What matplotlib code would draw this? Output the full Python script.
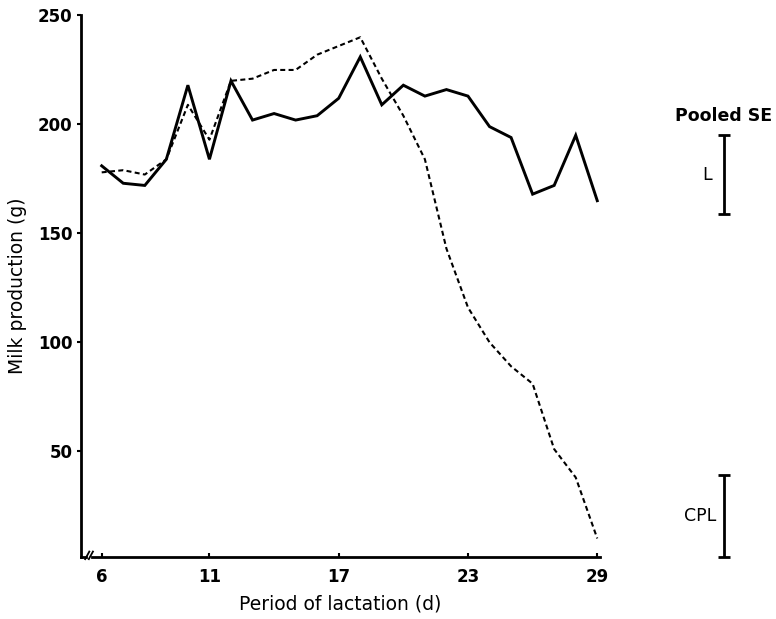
import numpy as np
import matplotlib
matplotlib.use("Agg")
import matplotlib.pyplot as plt

# Day of lactation
days = list(range(6, 30))

# Milk production (g), solid line = L, dashed line = CPL
milk_L = [181, 173, 172, 184, 218, 184, 220, 202, 205, 202, 204, 212,
          231, 209, 218, 213, 216, 213, 199, 194, 168, 172, 195, 165]
milk_CPL = [178, 179, 177, 184, 209, 193, 220, 221, 225, 225, 232, 236,
            240, 221, 204, 184, 143, 116, 100, 89, 81, 51, 38, 10]

x_ticks = [6, 11, 17, 23, 29]
y_ticks = [50, 100, 150, 200, 250]

# Pooled SE bars drawn at the right of the plot
se_labels = ["L", "CPL"]
se_centres = [177, 20.5]
se_half = [18.3, 18.8]

plt.rcParams["font.family"] = ["DejaVu Sans"]

fig = plt.figure(figsize=(7.76, 6.19), dpi=100)
ax = fig.add_axes([0.1044, 0.1002, 0.6686, 0.8748])

ax.plot(days, milk_L, color="black", linewidth=2.1, solid_joinstyle="miter")
ax.plot(days, milk_CPL, color="black", linewidth=1.5, dashes=(2.4, 1.6))

ax.set_xlim(5.04, 29.12)
ax.set_ylim(1.5, 250)

ax.set_xticks(x_ticks)
ax.set_yticks(y_ticks)
ax.tick_params(axis="x", direction="in", length=3, width=1.5, pad=8,
               labelsize=12)
ax.tick_params(axis="y", direction="out", length=3, width=1.5, pad=3,
               labelsize=12)
for lab in ax.get_xticklabels() + ax.get_yticklabels():
    lab.set_fontweight("bold")

for side in ["top", "right", "bottom"]:
    ax.spines[side].set_visible(False)
ax.spines["left"].set_linewidth(2.0)

# bottom axis with a break near the origin
ax.plot([0, 0.009], [0, 0], transform=ax.transAxes, color="black",
        linewidth=2.0, clip_on=False, solid_capstyle="projecting")
ax.plot([0.021, 1.0], [0, 0], transform=ax.transAxes, color="black",
        linewidth=2.0, clip_on=False)
for x0 in [0.008, 0.015]:
    ax.plot([x0, x0 + 0.008], [-0.004, 0.010], transform=ax.transAxes,
            color="black", linewidth=1.3, clip_on=False)

ax.set_xlabel("Period of lactation (d)", fontsize=13.5, labelpad=6)
ax.set_ylabel("Milk production (g)", fontsize=13.5, labelpad=8)

# pooled SE bars
bar_x = 34.88
ax.text(bar_x, 204, "Pooled SE", ha="center", va="center", fontsize=12.5,
        fontweight="bold", clip_on=False)
for name, c, h in zip(se_labels, se_centres, se_half):
    ax.errorbar([bar_x], [c], yerr=[h], color="black", elinewidth=2.0,
                capsize=4, capthick=2.0, clip_on=False)
    if name == "L":
        ax.text(bar_x - 0.55, c, name, ha="right", va="center",
                fontsize=12.5, clip_on=False)
    else:
        ax.text(bar_x - 0.35, c, name, ha="right", va="center",
                fontsize=12.5, clip_on=False)

fig.savefig("out.png", dpi=100)
